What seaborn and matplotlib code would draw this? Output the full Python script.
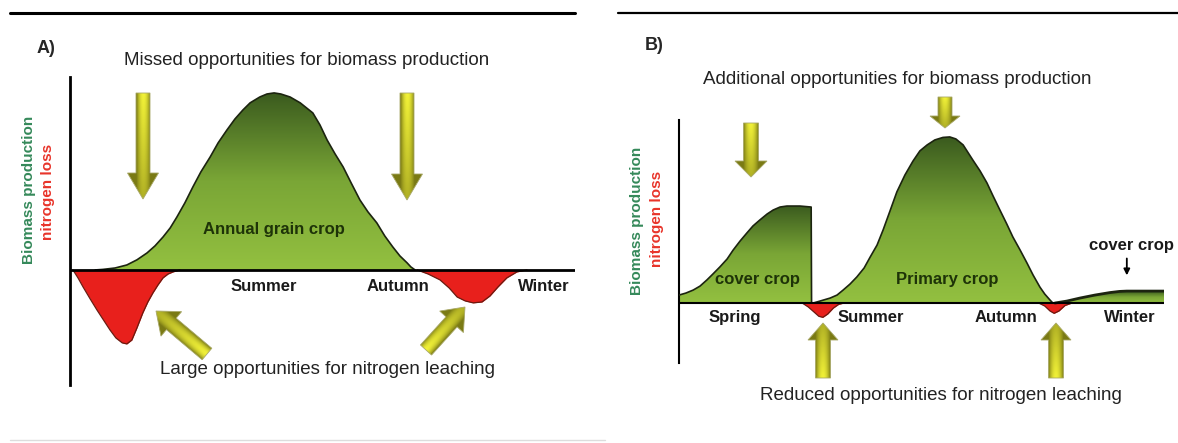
import numpy as np
import matplotlib.pyplot as plt
import seaborn as sns
from matplotlib.patches import Polygon
from matplotlib.colors import LinearSegmentedColormap

# time in months (0-12 across the axis), biomass relative to main crop peak (=100)
# panel A - annual grain crop only
a_crop_t = [0.60, 0.78, 1.07, 1.35, 1.59, 1.83, 2.02, 2.21, 2.38, 2.54, 2.73, 2.92,
            3.11, 3.33, 3.52, 3.73, 3.92, 4.11, 4.28, 4.51, 4.68, 4.85, 5.01, 5.23,
            5.47, 5.77, 5.94, 6.11, 6.30, 6.49, 6.68, 6.89, 7.08, 7.29, 7.48, 7.67,
            7.84, 8.01, 8.10, 8.20]
a_crop_y = [0.0, 0.3, 1.1, 2.8, 5.7, 9.6, 13.6, 18.6, 23.7, 29.9, 37.9, 46.9,
            55.4, 63.8, 71.8, 79.1, 85.3, 90.4, 94.4, 97.7, 99.4, 100.0, 99.4, 97.7,
            94.4, 88.7, 81.9, 73.4, 65.5, 58.2, 49.2, 39.5, 32.8, 26.6, 19.2, 13.0,
            7.9, 4.0, 1.7, 0.0]
a_loss1_t = [0.07, 0.19, 0.31, 0.48, 0.64, 0.81, 0.95, 1.09, 1.24, 1.35, 1.47, 1.59,
             1.73, 1.85, 1.97, 2.09, 2.21, 2.33, 2.45, 2.61]
a_loss1_y = [0.0, -4.5, -9.6, -16.4, -22.6, -28.8, -33.9, -38.4, -41.2, -41.8, -39.6, -32.8,
             -24.3, -18.1, -13.0, -8.5, -4.5, -2.3, -1.1, 0.0]
a_loss2_t = [8.25, 8.51, 8.79, 9.01, 9.20, 9.39, 9.58, 9.79, 9.98, 10.17, 10.38, 10.62, 10.86]
a_loss2_y = [0.0, -2.3, -5.6, -10.2, -15.3, -17.5, -18.6, -18.1, -14.7, -9.6, -4.5, -1.1, 0.0]

# panel B - cover crop + primary crop + winter cover crop
b_cover_t = [0.0, 0.17, 0.35, 0.52, 0.69, 0.84, 1.01, 1.19, 1.34, 1.51, 1.68, 1.83,
             2.00, 2.18, 2.33, 2.50, 2.67, 2.99, 3.27, 3.28]
b_cover_y = [4.8, 6.0, 7.8, 10.2, 13.9, 17.5, 21.7, 26.5, 31.9, 37.3, 42.2, 46.4,
             50.0, 53.6, 56.0, 57.8, 58.4, 58.4, 57.8, 0.0]
b_crop_t = [3.32, 3.49, 3.74, 3.91, 4.06, 4.23, 4.40, 4.58, 4.73, 4.90, 5.05, 5.22,
            5.39, 5.59, 5.79, 5.96, 6.14, 6.33, 6.53, 6.70, 6.85, 7.03, 7.27, 7.45,
            7.62, 7.77, 7.94, 8.11, 8.26, 8.44, 8.61, 8.76, 8.93, 9.05, 9.18, 9.25]
b_crop_y = [0.0, 1.2, 3.0, 4.8, 7.8, 11.4, 15.7, 21.1, 27.7, 34.9, 44.0, 55.4,
            66.9, 77.1, 85.5, 91.6, 95.2, 98.2, 99.7, 100.0, 98.8, 95.2, 86.1, 79.5,
            72.3, 64.5, 56.0, 47.6, 39.8, 31.9, 24.1, 16.9, 9.6, 5.4, 1.8, 0.0]
b_loss1_t = [3.05, 3.20, 3.34, 3.46, 3.56, 3.68, 3.82, 3.95, 4.08]
b_loss1_y = [0.0, -2.4, -5.4, -8.0, -8.6, -6.6, -3.0, -0.8, 0.0]
b_loss2_t = [8.90, 9.05, 9.18, 9.28, 9.40, 9.55, 9.72]
b_loss2_y = [0.0, -1.8, -4.8, -6.2, -4.8, -1.5, 0.0]
b_winter_t = [9.30, 9.60, 9.92, 10.29, 10.66, 10.90, 11.08, 12.0]
b_winter_y = [0.0, 1.2, 3.0, 4.8, 6.3, 7.0, 7.2, 7.2]

seasons_a = ["Summer", "Autumn", "Winter"]
seasons_a_t = [4.61, 7.79, 11.26]
seasons_b = ["Spring", "Summer", "Autumn", "Winter"]
seasons_b_t = [1.39, 4.75, 8.09, 11.16]

sns.set_theme(style="white")
plt.rcParams['font.family'] = ['Liberation Sans', 'DejaVu Sans']

GREENS = LinearSegmentedColormap.from_list("crop", ["#93c040", "#7aa636", "#3a5a1e"])
RED = "#e8201c"
EDGE = "#1c2410"
W, H = 1178, 443

fig = plt.figure(figsize=(W / 100, H / 100), dpi=100)


def px_box(x0, y0, x1, y1):
    return [x0 / W, 1 - y1 / H, (x1 - x0) / W, (y1 - y0) / H]


def crop_fill(ax, t, y, lw=1.2):
    pts = [(t[0], 0)] + list(zip(t, y)) + [(t[-1], 0)]
    poly = Polygon(pts, closed=True, facecolor="none", edgecolor="none")
    ax.add_patch(poly)
    grad = np.linspace(1, 0, 256).reshape(-1, 1)
    im = ax.imshow(grad, cmap=GREENS, extent=[min(t), max(t), 0, max(y)],
                   aspect="auto", origin="upper", zorder=2)
    im.set_clip_path(poly)
    sns.lineplot(x=t, y=y, ax=ax, color=EDGE, lw=lw, estimator=None, sort=False, zorder=3)


def loss_fill(ax, t, y):
    ax.fill_between(t, y, 0, color=RED, lw=0, zorder=2)
    sns.lineplot(x=t, y=y, ax=ax, color="#6a1a10", lw=0.9, estimator=None, sort=False, zorder=3)


def setup(ax, xlim, ylim, lw):
    ax.set_xlim(*xlim)
    ax.set_ylim(*ylim)
    for s in ["top", "right", "bottom"]:
        ax.spines[s].set_visible(False)
    ax.spines["left"].set_linewidth(lw)
    ax.spines["left"].set_color("black")
    ax.set_xticks([])
    ax.set_yticks([])
    ax.set_xlabel("")
    ax.set_ylabel("")
    ax.patch.set_alpha(0)
    ax.axhline(0, color="black", lw=lw, zorder=4)


LBL = dict(ha="center", va="center", fontsize=12, fontweight="bold")

# ---- panel A
axA = fig.add_axes(px_box(70, 77, 575, 385))
crop_fill(axA, a_crop_t, a_crop_y)
loss_fill(axA, a_loss1_t, a_loss1_y)
loss_fill(axA, a_loss2_t, a_loss2_y)
setup(axA, (0, 12), (-65, 109), 2.0)
for lab, t in zip(seasons_a, seasons_a_t):
    axA.text(t, -9.6, lab, color="#1a1a1a", **LBL)
axA.text(4.85, 22.6, "Annual grain crop", color="#1e3308", zorder=5, **LBL)

# ---- panel B
axB = fig.add_axes(px_box(679, 120, 1164, 363))
crop_fill(axB, b_cover_t, b_cover_y)
crop_fill(axB, b_crop_t, b_crop_y)
crop_fill(axB, b_winter_t, b_winter_y, lw=2.0)
loss_fill(axB, b_loss1_t, b_loss1_y)
loss_fill(axB, b_loss2_t, b_loss2_y)
setup(axB, (0, 12), (-36.1, 110.2), 1.5)
for lab, t in zip(seasons_b, seasons_b_t):
    axB.text(t, -9.0, lab, color="#1a1a1a", **LBL)
axB.text(1.95, 13.9, "cover crop", color="#1e3308", zorder=5, **LBL)
axB.text(6.63, 13.9, "Primary crop", color="#1e3308", zorder=5, **LBL)
axB.text(11.2, 34.9, "cover crop", color="#1a1a1a", clip_on=False, **LBL)
axB.annotate("", xy=(11.08, 15.0), xytext=(11.08, 28.5),
             arrowprops=dict(arrowstyle="-|>", color="black", lw=1.3, mutation_scale=9))

# ---- overlay in pixel space for headings and block arrows
ov = fig.add_axes([0, 0, 1, 1], zorder=10)
ov.set_xlim(0, W)
ov.set_ylim(H, 0)
ov.axis("off")

YEL = np.array([0.95, 0.95, 0.22])
OLV = np.array([0.48, 0.48, 0.08])


def block_arrow(tail, tip, w=14, hw=32, hl=26):
    tail = np.asarray(tail, float)
    tip = np.asarray(tip, float)
    d = tip - tail
    L = np.hypot(*d)
    e = d / L
    n = np.array([-e[1], e[0]])
    neck = tip - e * hl
    pts = np.array([tail + n * w / 2, neck + n * w / 2, neck + n * hw / 2, tip,
                    neck - n * hw / 2, neck - n * w / 2, tail - n * w / 2])
    poly = Polygon(pts, closed=True, facecolor="none", edgecolor="#a8a868", lw=0.6, zorder=6)
    ov.add_patch(poly)
    x0, y0 = pts.min(axis=0) - 1
    x1, y1 = pts.max(axis=0) + 1
    gx, gy = np.meshgrid(np.linspace(x0, x1, 150), np.linspace(y0, y1, 150))
    rx, ry = gx - tail[0], gy - tail[1]
    s = np.clip((rx * e[0] + ry * e[1]) / L, 0, 1)
    u = np.clip(np.abs(rx * n[0] + ry * n[1]) / (w / 2), 0, 1)
    k = (1 - u ** 2) * (1 - 0.55 * s)
    img = OLV + (YEL - OLV) * k[..., None]
    im = ov.imshow(img, extent=[x0, x1, y1, y0], origin="upper", aspect="auto", zorder=5)
    im.set_clip_path(poly)


# panel A arrows
block_arrow((143, 93), (143, 199), w=14, hw=31, hl=26)
block_arrow((407, 93), (407, 200), w=14, hw=31, hl=26)
block_arrow((207, 354), (156, 311), w=15, hw=32, hl=20)
block_arrow((426, 350), (465, 307), w=15, hw=32, hl=20)
# panel B arrows
block_arrow((751, 123), (751, 177), w=15, hw=32, hl=16)
block_arrow((945, 97), (945, 128), w=14, hw=30, hl=12)
block_arrow((823, 378), (823, 323), w=15, hw=30, hl=17)
block_arrow((1056, 378), (1056, 323), w=15, hw=30, hl=17)
ov.set_xlim(0, W)
ov.set_ylim(H, 0)

# headings
ov.text(37, 48, "A)", fontsize=13, fontweight="bold", va="center")
ov.text(645, 45, "B)", fontsize=13, fontweight="bold", va="center")
TTL = dict(fontsize=13.5, ha="center", va="center", color="#222222")
ov.text(307, 60, "Missed opportunities for biomass production", **TTL)
ov.text(327, 369, "Large opportunities for nitrogen leaching", **TTL)
ov.text(897, 79, "Additional opportunities for biomass production", **TTL)
ov.text(941, 396, "Reduced opportunities for nitrogen leaching", **TTL)

# y labels
for (xg, yg), (xr, yr) in [((29, 190), (48, 192)), ((637, 221), (657, 219))]:
    ov.text(xg, yg, "Biomass production", rotation=90, ha="center", va="center",
            fontsize=11, fontweight="bold", color="#35895a")
    ov.text(xr, yr, "nitrogen loss", rotation=90, ha="center", va="center",
            fontsize=11, fontweight="bold", color="#e8342a")

# rules at the top and faint one at the bottom
ov.plot([10, 575], [13, 13], color="black", lw=2.2)
ov.plot([618, 1178], [13, 13], color="black", lw=1.6)
ov.plot([10, 605], [440, 440], color="#dddddd", lw=1.0)

fig.savefig("out.png", dpi=100)
